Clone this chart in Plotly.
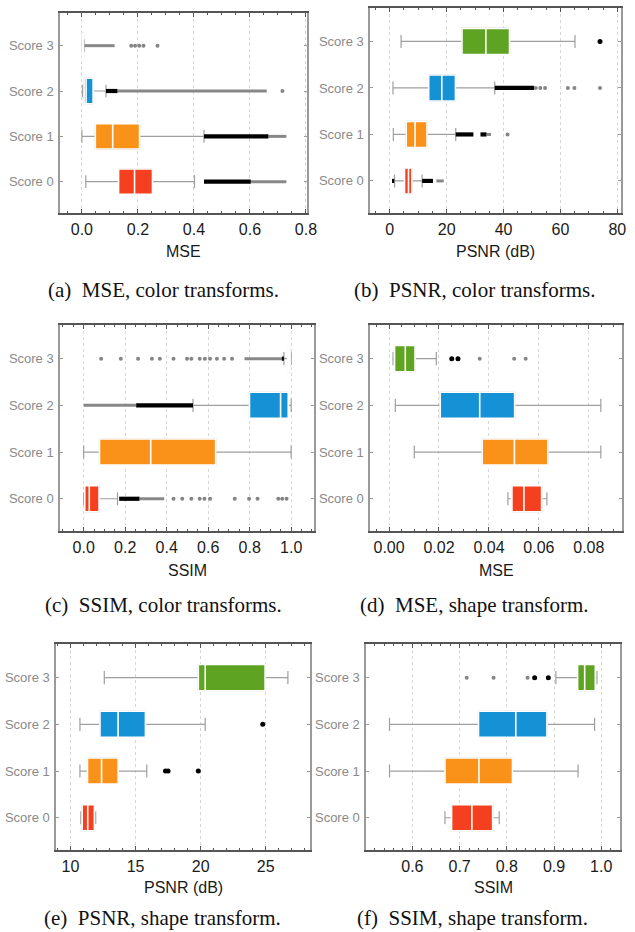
import plotly.graph_objects as go

W, H = 635, 932
CATS = ["Score 0", "Score 1", "Score 2", "Score 3"]

# ---------------- (a) MSE, color transforms ----------------
a_low = [0.014, 0.000, 0.002, 0.000]
a_q1 = [0.131, 0.048, 0.008, 0.001]
a_med = [0.188, 0.110, 0.015, 0.003]
a_q3 = [0.252, 0.206, 0.040, 0.006]
a_high = [0.402, 0.436, 0.086, 0.009]
a_black_bands = [(0, 0.436, 0.603), (1, 0.436, 0.666), (2, 0.086, 0.127)]
a_gray_bands = [(0, 0.603, 0.730), (1, 0.666, 0.730), (2, 0.127, 0.660), (3, 0.009, 0.117)]
a_black_pts = []
a_gray_pts = [(2, 0.716), (3, 0.176), (3, 0.190), (3, 0.205), (3, 0.220), (3, 0.270)]
a_ticks = [0.0, 0.2, 0.4, 0.6, 0.8]

# ---------------- (b) PSNR, color transforms ----------------
b_low = [1.7, 1.27, 1.15, 4.0]
b_q1 = [5.2, 5.8, 13.7, 25.4]
b_med = [6.6, 8.9, 18.3, 33.8]
b_q3 = [7.8, 13.1, 23.1, 42.1]
b_high = [11.4, 23.2, 36.9, 65.1]
b_black_bands = [(0, 0.8, 1.6), (0, 11.4, 15.2), (1, 23.2, 29.4), (1, 31.9, 34.0), (2, 36.9, 50.7)]
b_gray_bands = [(0, 16.4, 19.0), (1, 34.0, 35.6)]
b_black_pts = [(3, 73.9)]
b_gray_pts = [(1, 41.4), (2, 51.3), (2, 52.9), (2, 54.6), (2, 62.6), (2, 64.9), (2, 73.9)]
b_ticks = [0, 20, 40, 60, 80]

# ---------------- (c) SSIM, color transforms ----------------
c_low = [0.000, 0.000, 0.527, 0.965]
c_q1 = [0.005, 0.076, 0.799, 0.984]
c_med = [0.027, 0.323, 0.949, 0.989]
c_q3 = [0.074, 0.636, 0.986, 0.995]
c_high = [0.163, 1.000, 1.000, 1.000]
c_black_bands = [(0, 0.171, 0.269), (2, 0.253, 0.527), (3, 0.955, 0.965)]
c_gray_bands = [(0, 0.269, 0.388), (2, 0.000, 0.253), (3, 0.775, 0.955)]
c_black_pts = []
c_gray_pts = [(0, 0.433), (0, 0.475), (0, 0.519), (0, 0.559), (0, 0.582), (0, 0.609),
              (0, 0.728), (0, 0.797), (0, 0.838), (0, 0.938), (0, 0.957), (0, 0.978),
              (3, 0.084), (3, 0.179), (3, 0.262), (3, 0.329), (3, 0.367), (3, 0.433),
              (3, 0.498), (3, 0.519), (3, 0.559), (3, 0.584), (3, 0.609), (3, 0.642),
              (3, 0.677), (3, 0.715)]
c_ticks = [0.0, 0.2, 0.4, 0.6, 0.8, 1.0]

# ---------------- (d) MSE, shape transform ----------------
d_low = [0.0476, 0.0101, 0.0025, 0.0016]
d_q1 = [0.0492, 0.0373, 0.0205, 0.0022]
d_med = [0.0540, 0.0502, 0.0363, 0.0065]
d_q3 = [0.0611, 0.0636, 0.0503, 0.0104]
d_high = [0.0632, 0.0848, 0.0848, 0.0189]
d_black_bands = []
d_gray_bands = []
d_black_pts = [(3, 0.0251), (3, 0.0276)]
d_gray_pts = [(3, 0.0363), (3, 0.0501), (3, 0.0547)]
d_ticks = [0.00, 0.02, 0.04, 0.06, 0.08]

# ---------------- (e) PSNR, shape transform ----------------
e_low = [10.80, 10.73, 10.73, 12.60]
e_q1 = [10.90, 11.31, 12.27, 19.82]
e_med = [11.33, 12.39, 13.66, 20.35]
e_q3 = [11.84, 13.66, 15.76, 24.95]
e_high = [11.94, 15.86, 20.35, 26.70]
e_black_bands = []
e_gray_bands = []
e_black_pts = [(1, 17.30), (1, 17.50), (1, 19.82), (2, 24.77)]
e_gray_pts = []
e_ticks = [10, 15, 20, 25]

# ---------------- (f) SSIM, shape transform ----------------
f_low = [0.669, 0.5515, 0.5515, 0.904]
f_q1 = [0.683, 0.669, 0.740, 0.950]
f_med = [0.726, 0.741, 0.819, 0.965]
f_q3 = [0.770, 0.812, 0.885, 0.9875]
f_high = [0.784, 0.951, 0.986, 0.991]
f_black_bands = []
f_gray_bands = []
f_black_pts = [(3, 0.859), (3, 0.888)]
f_gray_pts = [(3, 0.715), (3, 0.772), (3, 0.844)]
f_ticks = [0.6, 0.7, 0.8, 0.9, 1.0]

# ---------------- styling / layout config ----------------
BOX_COLORS = ["#F4401E", "#FA9119", "#1592D6", "#5EA322"]
WHISKER = "#9f9f9f"
SANS = "Liberation Sans, Arial, sans-serif"
SERIF = "Liberation Serif, Times New Roman, serif"

panels = [
    dict(low=a_low, q1=a_q1, med=a_med, q3=a_q3, high=a_high, bb=a_black_bands, gb=a_gray_bands,
         bp=a_black_pts, gp=a_gray_pts, ticks=a_ticks, fmt=".1f", minor=0.05, xr=[-0.078, 0.804],
         title="MSE", caption="(a)\u2002MSE, color transforms.", px=(61, 312), py=(13, 213),
         ty=251, cx=166, cy=290),
    dict(low=b_low, q1=b_q1, med=b_med, q3=b_q3, high=b_high, bb=b_black_bands, gb=b_gray_bands,
         bp=b_black_pts, gp=b_gray_pts, ticks=b_ticks, fmt="d", minor=5, xr=[-6.9, 81.3],
         title="PSNR (dB)", caption="(b)\u2002PSNR, color transforms.", px=(376, 631), py=(8, 213),
         ty=251, cx=482, cy=290),
    dict(low=c_low, q1=c_q1, med=c_med, q3=c_q3, high=c_high, bb=c_black_bands, gb=c_gray_bands,
         bp=c_black_pts, gp=c_gray_pts, ticks=c_ticks, fmt=".1f", minor=0.05, xr=[-0.114, 1.11],
         title="SSIM", caption="(c)\u2002SSIM, color transforms.", px=(61, 319), py=(325, 531),
         ty=570, cx=166, cy=605),
    dict(low=d_low, q1=d_q1, med=d_med, q3=d_q3, high=d_high, bb=d_black_bands, gb=d_gray_bands,
         bp=d_black_pts, gp=d_gray_pts, ticks=d_ticks, fmt=".2f", minor=0.005, xr=[-0.0076, 0.0933],
         title="MSE", caption="(d)\u2002MSE, shape transform.", px=(376, 632), py=(325, 531),
         ty=570, cx=482, cy=605),
    dict(low=e_low, q1=e_q1, med=e_med, q3=e_q3, high=e_high, bb=e_black_bands, gb=e_gray_bands,
         bp=e_black_pts, gp=e_gray_pts, ticks=e_ticks, fmt="d", minor=1, xr=[8.9, 28.4],
         title="PSNR (dB)", caption="(e)\u2002PSNR, shape transform.", px=(57, 315), py=(644, 850),
         ty=887, cx=165, cy=918),
    dict(low=f_low, q1=f_q1, med=f_med, q3=f_q3, high=f_high, bb=f_black_bands, gb=f_gray_bands,
         bp=f_black_pts, gp=f_gray_pts, ticks=f_ticks, fmt=".1f", minor=0.02, xr=[0.502, 1.04],
         title="SSIM", caption="(f)\u2002SSIM, shape transform.", px=(372, 630), py=(644, 850),
         ty=887, cx=480, cy=918),
]

fig = go.Figure()
annotations = []
layout_axes = {}

for i, p in enumerate(panels, start=1):
    xa = "x" if i == 1 else f"x{i}"
    ya = "y" if i == 1 else f"y{i}"
    for k, cat in enumerate(CATS):
        # whiskers + caps (gray) with filled box
        fig.add_trace(go.Box(
            y=[cat], q1=[p["q1"][k]], median=[p["med"][k]], q3=[p["q3"][k]],
            lowerfence=[p["low"][k]], upperfence=[p["high"][k]],
            orientation="h", boxpoints=False, width=0.56, whiskerwidth=0.5,
            fillcolor=BOX_COLORS[k], line=dict(color=WHISKER, width=1.2),
            xaxis=xa, yaxis=ya, showlegend=False, hoverinfo="skip"))
        # box overlay with white median
        fig.add_trace(go.Box(
            y=[cat], q1=[p["q1"][k]], median=[p["med"][k]], q3=[p["q3"][k]],
            lowerfence=[p["q1"][k]], upperfence=[p["q3"][k]],
            orientation="h", boxpoints=False, width=0.56, whiskerwidth=0,
            fillcolor=BOX_COLORS[k], line=dict(color="white", width=1.6),
            xaxis=xa, yaxis=ya, showlegend=False, hoverinfo="skip"))
    # dense outlier bands
    for bands, col, lw in ((p["gb"], "#888888", 3.0), (p["bb"], "#000000", 4.2)):
        if bands:
            xs, ys = [], []
            for (c, lo, hi) in bands:
                xs += [lo, hi, None]
                ys += [CATS[c], CATS[c], None]
            fig.add_trace(go.Scatter(x=xs, y=ys, mode="lines", line=dict(color=col, width=lw),
                                     xaxis=xa, yaxis=ya, showlegend=False, hoverinfo="skip"))
    # individual outliers
    for pts, col, sz in ((p["gp"], "#858585", 4), (p["bp"], "#000000", 5)):
        if pts:
            fig.add_trace(go.Scatter(x=[v for _, v in pts], y=[CATS[c] for c, _ in pts], mode="markers",
                                     marker=dict(color=col, size=sz), xaxis=xa, yaxis=ya,
                                     showlegend=False, hoverinfo="skip"))

    xkey = "xaxis" if i == 1 else f"xaxis{i}"
    ykey = "yaxis" if i == 1 else f"yaxis{i}"
    x0, x1 = p["px"]
    y0, y1 = p["py"]
    layout_axes[xkey] = dict(
        domain=[x0 / W, x1 / W], anchor=ya, range=p["xr"], tickvals=p["ticks"],
        tickformat=p["fmt"], showgrid=True, gridcolor="#d6d6d6", griddash="dot", gridwidth=1,
        zeroline=False, showline=True, linecolor="#555555", linewidth=1.5, mirror="allticks",
        ticks="inside", ticklen=4, tickcolor="#555555", ticklabelstandoff=1,
        tickfont=dict(family=SANS, size=16, color="#1a1a1a"),
        minor=dict(dtick=p["minor"], ticks="inside", ticklen=2, tickcolor="#555555", showgrid=False),
    )
    layout_axes[ykey] = dict(
        domain=[1 - y1 / H, 1 - y0 / H], anchor=xa, type="category",
        categoryorder="array", categoryarray=CATS, range=[-0.69, 3.72],
        showgrid=False, zeroline=False, showline=True, linecolor="#9a9a9a", linewidth=1.5,
        mirror="allticks", ticks="inside", ticklen=3, tickcolor="#9a9a9a",
        tickfont=dict(family=SANS, size=13, color="#8a8a8a"), ticklabelstandoff=2,
    )
    annotations.append(dict(text=p["title"], x=(x0 + x1) / 2 / W, y=1 - p["ty"] / H,
                            xref="paper", yref="paper", showarrow=False, xanchor="center",
                            yanchor="middle", font=dict(family=SANS, size=16, color="#1a1a1a")))
    annotations.append(dict(text=p["caption"], x=p["cx"] / W, y=1 - p["cy"] / H,
                            xref="paper", yref="paper", showarrow=False, xanchor="center",
                            yanchor="middle", font=dict(family=SERIF, size=21, color="#111111")))

fig.update_layout(
    width=W, height=H, margin=dict(l=0, r=0, t=0, b=0),
    paper_bgcolor="white", plot_bgcolor="white", boxmode="overlay",
    annotations=annotations, showlegend=False, **layout_axes)

fig.write_html("out.html")
